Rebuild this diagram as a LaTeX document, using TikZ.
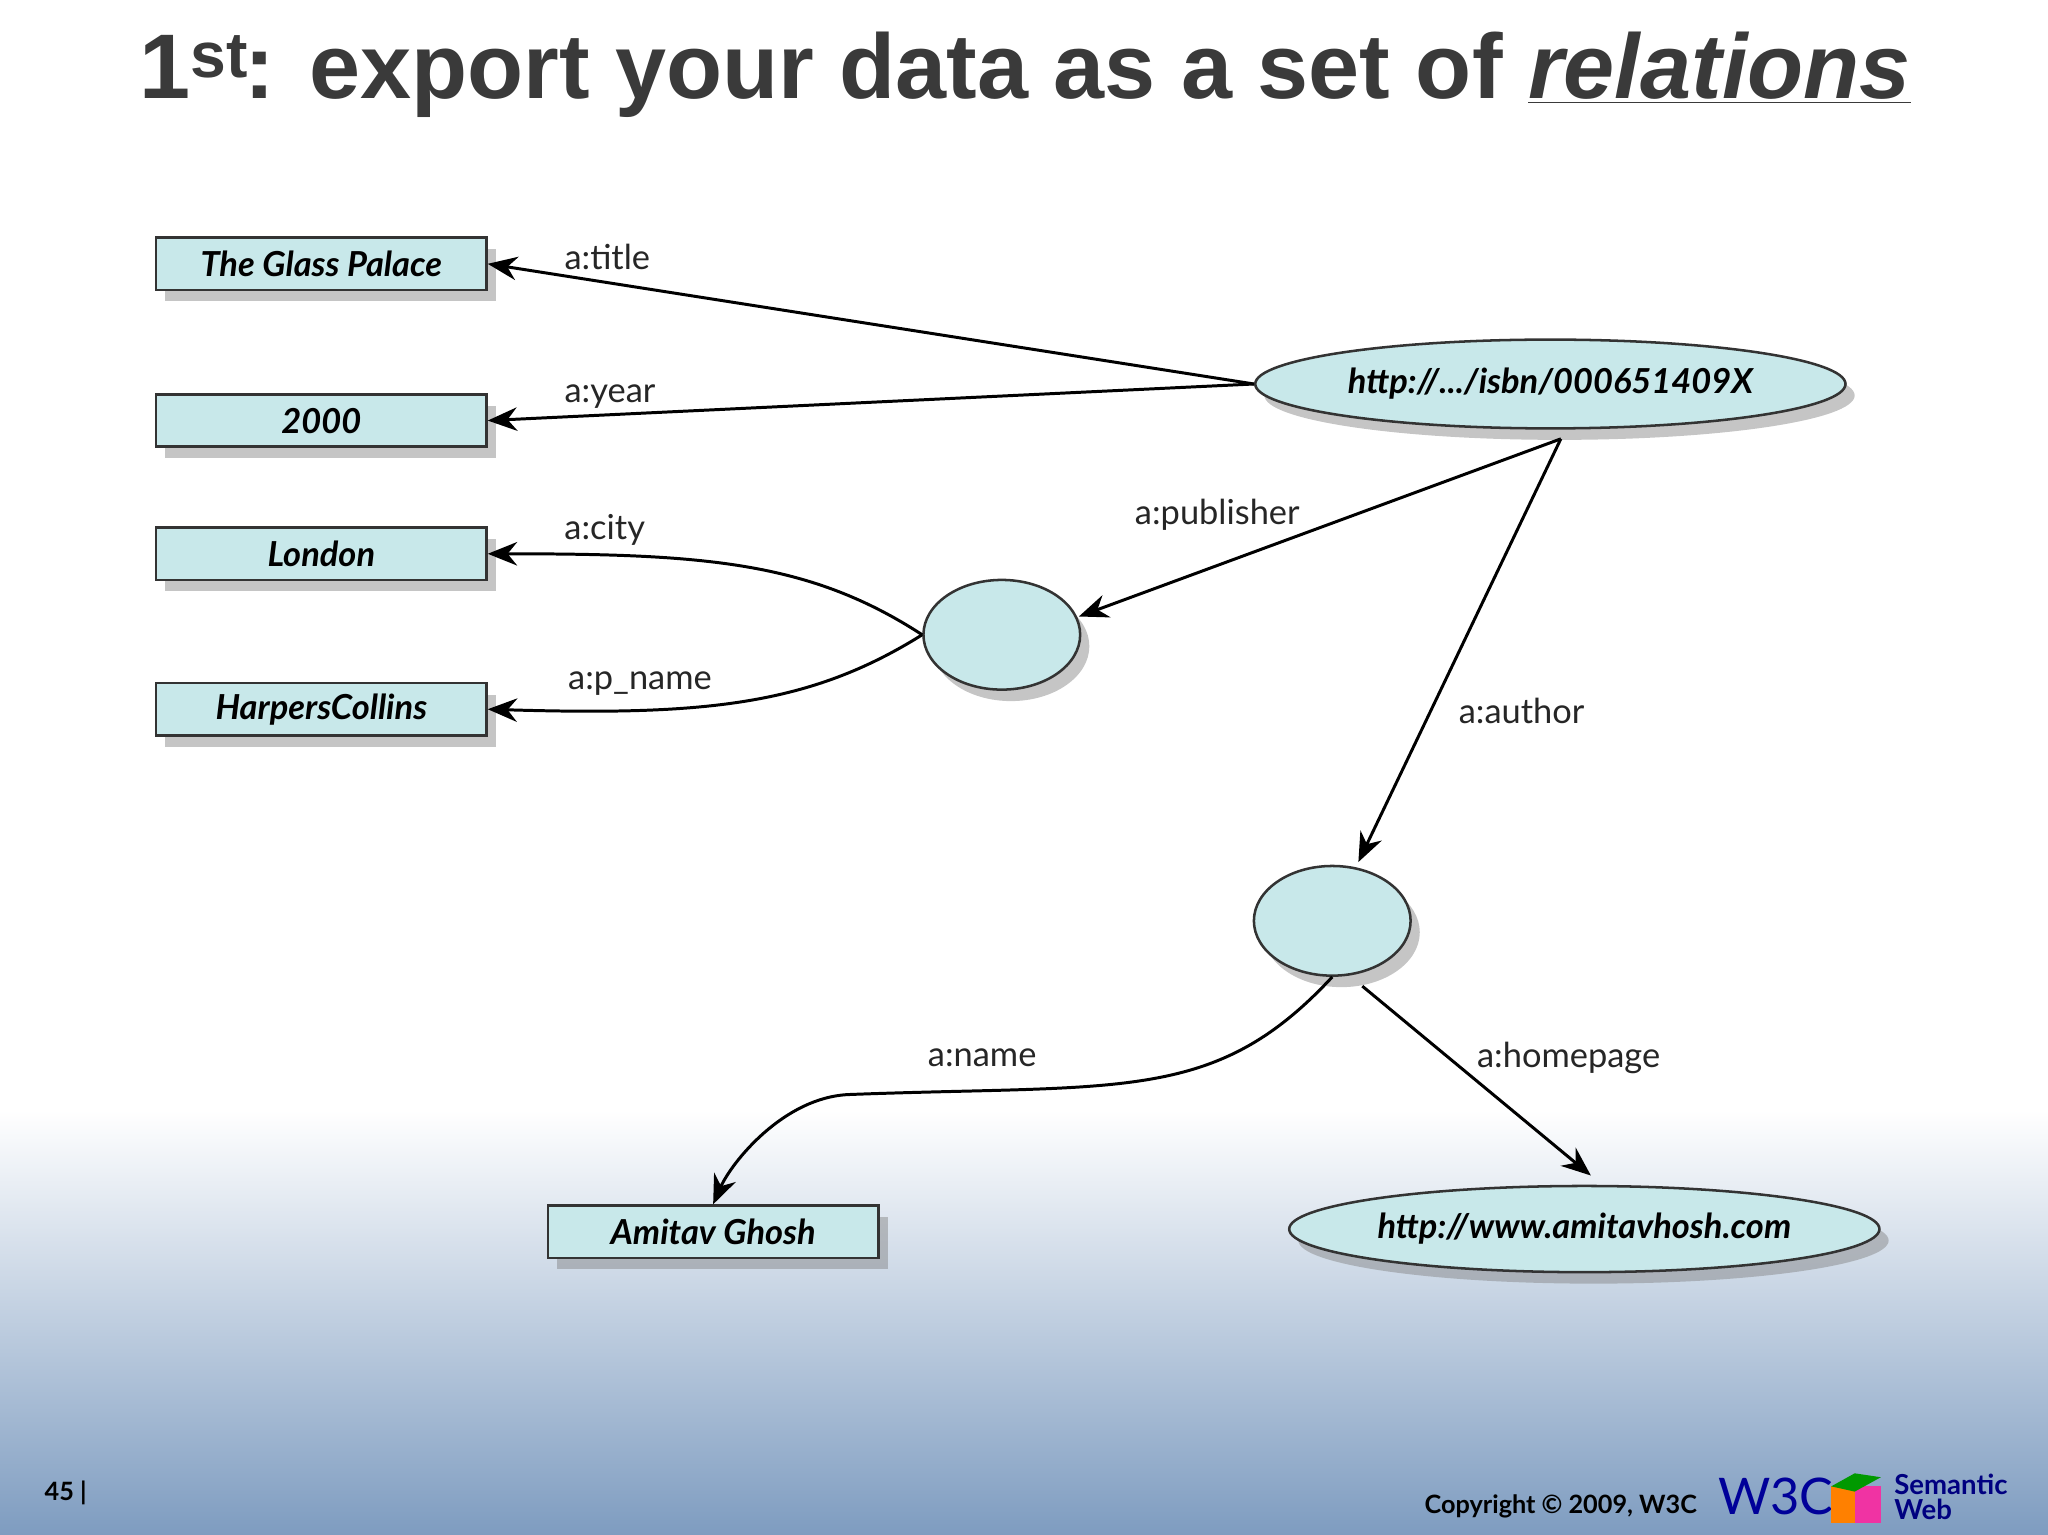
\documentclass[tikz,border=0pt]{standalone}
\usepackage{fontspec}
\setmainfont{Lato}
\newfontfamily\titlefont{Liberation Sans}
\usetikzlibrary{shapes.geometric,arrows.meta,shadows}
\definecolor{nodefill}{HTML}{C8E8EA}
\definecolor{titlegray}{HTML}{3A3A3A}
\definecolor{bgblue}{HTML}{7E9CC0}
\tikzset{
 lit/.style={draw=black!80,line width=1.1pt,fill=nodefill,minimum width=5.06cm,minimum height=0.8cm,
   inner sep=0pt,font=\fontsize{15}{18}\selectfont\bfseries\itshape,
   drop shadow={shadow xshift=4pt,shadow yshift=-5pt,opacity=0.45}},
 res/.style={ellipse,draw=black!80,line width=1.1pt,fill=nodefill,inner sep=0pt,
   font=\fontsize{15}{18}\selectfont\bfseries\itshape,
   drop shadow={shadow xshift=4pt,shadow yshift=-5pt,opacity=0.45}},
 edge/.style={line width=1.3pt,-{Stealth[length=0.45cm,width=0.36cm]}},
 lab/.style={font=\fontsize{15}{18}\selectfont,text=black!85}
}
\begin{document}
\begin{tikzpicture}[x=0.02cm,y=-0.02cm]
\useasboundingbox (0,0) rectangle (1568,1175);
\fill[white] (0,0) rectangle (1568,1175);
\shade[top color=white,bottom color=bgblue] (0,850) rectangle (1568,1175);
\node[font=\titlefont\fontsize{40}{44}\selectfont\bfseries,text=titlegray] (title) at (785,57)
 {1\textsuperscript{st}\kern-2pt: export your data as a set of \underline{\textit{relations}}};
% literals
\node[lit] (glass) at (246,202) {The Glass Palace};
\node[lit] (y2000) at (246,322) {2000};
\node[lit] (london) at (246,424) {London};
\node[lit] (harper) at (246,543) {HarpersCollins};
\node[lit] (amitav) at (546,943) {Amitav Ghosh};
% resources
\node[res,minimum width=9.04cm,minimum height=1.36cm] (isbn) at (1187,294) {http://.../isbn/000651409X};
\node[res,minimum width=2.4cm,minimum height=1.68cm] (b1) at (767,486) {};
\node[res,minimum width=2.4cm,minimum height=1.68cm] (b2) at (1020,705) {};
\node[res,minimum width=9.04cm,minimum height=1.32cm] (home) at (1213,941) {http://www.amitavhosh.com};
% edges
\coordinate (isbnS) at (1195,336);
\coordinate (b1tip) at (826,472);
\coordinate (b2tip) at (1040,660);
\draw[edge] (isbn.west) -- (glass.east);
\node[lab] (titlelab) at (465,197) {a:title};
\draw[edge] (isbn.west) -- (y2000.east);
\node[lab] (yearlab) at (467,304) {a:year};
\draw[edge] (isbnS) -- (b1tip);
\node[lab] (publab) at (932,394) {a:publisher};
\draw[edge] (isbnS) -- (b2tip);
\node[lab] (authlab) at (1165,544) {a:author};
\draw[edge] (b1.west) .. controls (620,430) and (540,424) .. (london.east);
\node[lab] (citylab) at (463,406) {a:city};
\draw[edge] (b1.west) .. controls (620,540) and (540,548) .. (harper.east);
\node[lab] (pnlab) at (490,523) {a:p\_name};
\draw[edge] (b2.south) .. controls (930,845) and (860,830) .. (650,838) .. controls (600,840) and (560,890) .. (amitav.north);
\node[lab] (namelab) at (752,810) {a:name};
\coordinate (b2se) at (1043,755);
\draw[edge] (b2se) -- (1218,900);
\node[lab] (homelab) at (1201,810) {a:homepage};
% footer
\node[font=\fontsize{11}{12}\selectfont\bfseries,anchor=west] (pg) at (28,1143) {45 |};
\node[font=\fontsize{11}{12}\selectfont\bfseries] (copy) at (1195,1153) {Copyright © 2009, W3C};
\node[font=\fontsize{22}{22}\selectfont,text=blue!60!black,anchor=west,inner sep=0pt] (w3c) at (1315,1146) {W3C};
\fill[orange] (1402,1138) rectangle (1420,1166);
\fill[magenta!80] (1420,1138) rectangle (1440,1166);
\fill[green!60!black] (1402,1138) -- (1420,1128) -- (1440,1131) -- (1420,1142) -- cycle;
\node[font=\fontsize{12}{11}\selectfont\bfseries,text=blue!50!black,anchor=west,align=left,inner sep=0pt] (sw) at (1450,1146) {Semantic\\Web};
\end{tikzpicture}
\end{document}
